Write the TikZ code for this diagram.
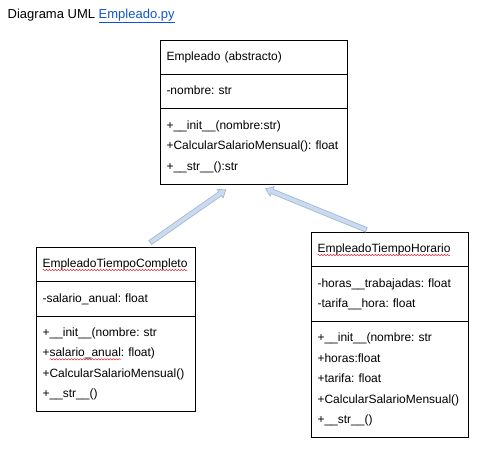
\documentclass[tikz,border=0pt]{standalone}
\usepackage{fontspec}
\setmainfont{Liberation Sans}
\usetikzlibrary{arrows.meta,positioning,shapes.multipart,decorations.pathmorphing}
\frenchspacing

\definecolor{linkblue}{HTML}{1155CC}
\definecolor{arrowfill}{HTML}{CADBF0}
\definecolor{arrowedge}{HTML}{A2B5CF}
\definecolor{spellred}{HTML}{E0303A}

% one line of a class compartment
\newcommand{\fila}{\rule[-7bp]{0pt}{20.5bp}}
% red wavy underline
\newlength{\squiglen}
\newcommand{\squig}[1]{\settowidth{\squiglen}{#1}\rlap{\tikz[overlay]\draw[spellred, line width=0.5bp, decorate,
  decoration={snake, amplitude=0.7bp, segment length=3bp}] (0pt,-2.4bp) -- (\squiglen,-2.4bp);}#1}

\begin{document}
\begin{tikzpicture}[x=1bp, y=-1bp,
  umlclass/.style={rectangle split, rectangle split parts=3, draw, line width=0.9bp, anchor=north,
    inner xsep=6.5bp, inner ysep=6.5bp, align=left, font=\fontsize{12bp}{20.5bp}\selectfont},
  inherits/.style={draw=arrowedge, line width=5.5bp, -{Triangle[length=8bp,width=11bp]},
    postaction={draw=arrowfill, line width=3.9bp, shorten <=0.8bp, shorten >=1.4bp,
      -{Triangle[length=5.8bp,width=8bp]}}}]
  \useasboundingbox (0,0) rectangle (503,455);

  \node[anchor=base west, inner sep=0pt, font=\fontsize{13bp}{15bp}\selectfont] (title) at (7.5,18.3)
    {Diagrama UML \textcolor{linkblue}{\underline{Empleado.py}}};

  \node[umlclass, text width=174.7bp] (emp) at (253.85,39.7)
    {\fila Empleado (abstracto)
     \nodepart{second}\fila -nombre: str
     \nodepart{third}\fila +\_\_init\_\_(nombre:str)\\
       \fila +CalcularSalarioMensual(): float\\
       \fila +\_\_str\_\_():str};

  \node[umlclass, text width=146.3bp, below left=207bp and 138.15bp of emp.north, anchor=north] (etc)
    {\fila\squig{EmpleadoTiempoCompleto}
     \nodepart{second}\fila -salario\_anual: float
     \nodepart{third}\fila +\_\_init\_\_(nombre: str\\
       \fila +\squig{salario\_anual}: float)\\
       \fila +CalcularSalarioMensual()\\
       \fila +\_\_str\_\_()};

  \node[umlclass, text width=144bp, below right=192bp and 135.65bp of emp.north, anchor=north] (eth)
    {\fila\squig{EmpleadoTiempoHorario}
     \nodepart{second}\fila -horas\_\_trabajadas: float\\
       \fila -tarifa\_\_hora: float
     \nodepart{third}\fila +\_\_init\_\_(nombre: str\\
       \fila +horas:float\\
       \fila +tarifa: float\\
       \fila +CalcularSalarioMensual()\\
       \fila +\_\_str\_\_()};

  \coordinate (etc-tail) at ([xshift=34.3bp, yshift=4bp]etc.north);
  \coordinate (etc-head) at ([xshift=-27.4bp, yshift=-4.5bp]emp.south);
  \coordinate (eth-tail) at ([xshift=-22.8bp, yshift=1.7bp]eth.north);
  \coordinate (eth-head) at ([xshift=11.2bp, yshift=-3.7bp]emp.south);

  \draw[inherits] (etc-tail) -- (etc-head);
  \draw[inherits] (eth-tail) -- (eth-head);
\end{tikzpicture}
\end{document}
